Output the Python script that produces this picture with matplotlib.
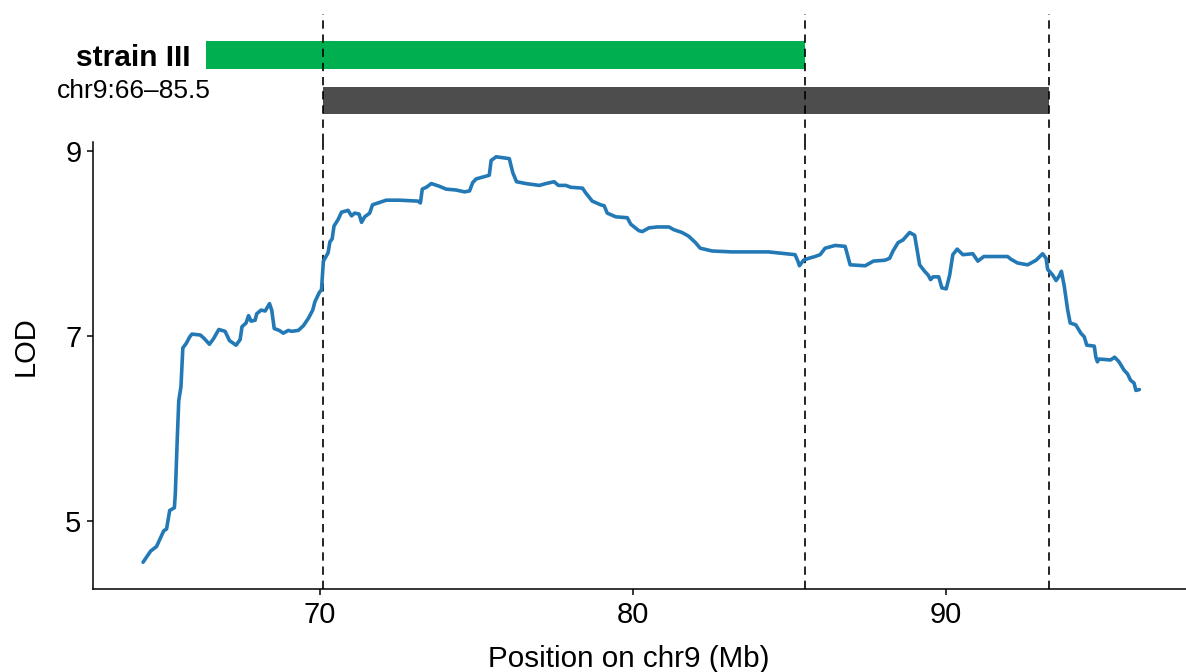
import matplotlib
matplotlib.use("Agg")
import matplotlib.pyplot as plt

plt.rcParams['font.family'] = ['Liberation Sans', 'DejaVu Sans']

# LOD profile along chr9 (Mb)
pos = [64.35, 64.59, 64.78, 65.01, 65.10, 65.20, 65.35, 65.38, 65.44, 65.49,
       65.56, 65.62, 65.73, 65.84, 65.91, 66.18, 66.31, 66.47, 66.60, 66.77,
       66.97, 67.11, 67.32, 67.45, 67.51, 67.64, 67.72, 67.80, 67.93, 67.98,
       68.12, 68.25, 68.39, 68.46, 68.54, 68.70, 68.83, 68.99, 69.10, 69.31,
       69.47, 69.63, 69.77, 69.84, 69.98, 70.05, 70.11, 70.26, 70.32, 70.39,
       70.45, 70.58, 70.69, 70.90, 71.01, 71.11, 71.25, 71.33, 71.43, 71.59,
       71.68, 71.86, 72.12, 72.55, 73.13, 73.21, 73.27, 73.40, 73.56, 73.82,
       74.03, 74.35, 74.62, 74.78, 74.88, 74.99, 75.20, 75.41, 75.47, 75.63,
       76.05, 76.16, 76.28, 76.58, 77.01, 77.22, 77.48, 77.62, 77.86, 78.01,
       78.39, 78.49, 78.70, 78.97, 79.08, 79.18, 79.45, 79.82, 79.93, 80.19,
       80.30, 80.51, 80.78, 81.15, 81.31, 81.57, 81.78, 82.00, 82.15, 82.53,
       83.16, 84.33, 85.18, 85.27, 85.32, 85.45, 85.61, 85.82, 85.98, 86.14,
       86.46, 86.78, 86.94, 87.42, 87.68, 88.05, 88.20, 88.31, 88.47, 88.63,
       88.84, 89.00, 89.16, 89.32, 89.43, 89.51, 89.59, 89.77, 89.87, 90.01,
       90.12, 90.22, 90.36, 90.54, 90.86, 91.02, 91.21, 91.44, 91.97, 92.08,
       92.29, 92.61, 92.88, 93.09, 93.20, 93.25, 93.41, 93.52, 93.62, 93.69,
       93.78, 93.89, 93.97, 94.15, 94.31, 94.42, 94.50, 94.74, 94.79, 94.84,
       94.89, 95.26, 95.39, 95.53, 95.69, 95.80, 95.90, 96.01, 96.07, 96.18]
lod = [4.55, 4.67, 4.72, 4.89, 4.91, 5.11, 5.14, 5.29, 5.87, 6.30,
       6.45, 6.87, 6.92, 6.99, 7.02, 7.01, 6.97, 6.91, 6.97, 7.07,
       7.05, 6.95, 6.90, 6.96, 7.10, 7.14, 7.22, 7.16, 7.17, 7.24,
       7.28, 7.27, 7.35, 7.28, 7.08, 7.06, 7.03, 7.06, 7.05, 7.06,
       7.11, 7.19, 7.28, 7.37, 7.47, 7.50, 7.81, 7.90, 8.02, 8.05,
       8.19, 8.26, 8.34, 8.36, 8.30, 8.33, 8.32, 8.23, 8.29, 8.33,
       8.42, 8.44, 8.47, 8.47, 8.46, 8.44, 8.59, 8.61, 8.65, 8.62,
       8.59, 8.58, 8.56, 8.57, 8.66, 8.70, 8.72, 8.74, 8.90, 8.94,
       8.92, 8.77, 8.67, 8.65, 8.63, 8.65, 8.67, 8.63, 8.63, 8.61,
       8.60, 8.55, 8.46, 8.42, 8.41, 8.33, 8.29, 8.28, 8.21, 8.14,
       8.13, 8.17, 8.18, 8.18, 8.15, 8.12, 8.08, 8.01, 7.95, 7.92,
       7.91, 7.91, 7.88, 7.81, 7.76, 7.82, 7.84, 7.86, 7.88, 7.95,
       7.98, 7.97, 7.77, 7.76, 7.81, 7.82, 7.84, 7.92, 8.01, 8.04,
       8.12, 8.09, 7.77, 7.70, 7.66, 7.61, 7.64, 7.64, 7.52, 7.51,
       7.66, 7.88, 7.94, 7.88, 7.89, 7.81, 7.86, 7.86, 7.86, 7.83,
       7.79, 7.77, 7.82, 7.89, 7.84, 7.72, 7.66, 7.60, 7.65, 7.70,
       7.54, 7.28, 7.14, 7.12, 7.03, 6.99, 6.90, 6.89, 6.77, 6.72,
       6.75, 6.74, 6.77, 6.72, 6.63, 6.59, 6.52, 6.49, 6.41, 6.42]

# intervals shown above the scan
strain_start, strain_end = 66.35, 85.5
ci_start, ci_end = 70.11, 93.30
markers = [70.11, 85.5, 93.30]

x_ticks = [70, 80, 90]
y_ticks = [5, 7, 9]

W, H = 1186, 672
fig = plt.figure(figsize=(W / 100, H / 100), dpi=100)

# main LOD axes (pixel layout converted to figure fractions)
ax = fig.add_axes([93 / W, (H - 589) / H, (W - 93) / W, 447 / H])
ax_top = fig.add_axes([93 / W, (H - 142) / H, (W - 93) / W, 128 / H], sharex=ax)

ax.plot(pos, lod, color='#2379b5', lw=2.6, solid_joinstyle='round',
        solid_capstyle='round', zorder=3)
for m in markers:
    ax.axvline(m, color='black', lw=1.2, linestyle=(0, (5, 3.5)), zorder=2)
    ax_top.axvline(m, color='black', lw=1.2, linestyle=(0, (5, 3.5)), zorder=3)

ax.set_xlim(62.75, 97.67)
ax.set_ylim(4.26, 9.10)
ax.set_xticks(x_ticks)
ax.set_yticks(y_ticks)
ax.tick_params(direction='out', length=4.3, width=1.1, pad=4, labelsize=21)
for side in ['top', 'right']:
    ax.spines[side].set_visible(False)
for side in ['left', 'bottom']:
    ax.spines[side].set_linewidth(1.1)

ax.set_xlabel('Position on chr9 (Mb)', fontsize=21.3, va='baseline')
ax.xaxis.set_label_coords((628.5 - 93) / (W - 93), (589 - 667) / 447)
ax.set_ylabel('LOD', fontsize=21, va='center', ha='center')
ax.yaxis.set_label_coords((26 - 93) / (W - 93), (589 - 346) / 447)

# interval bars
ax_top.barh(1, strain_end - strain_start, left=strain_start, height=0.6,
            color='#00b050', zorder=2)
ax_top.barh(0, ci_end - ci_start, left=ci_start, height=0.59,
            color='#4d4d4d', zorder=2)
ax_top.set_ylim(-0.896, 1.89)
ax_top.axis('off')

fig.text(190.7 / W, 1 - 65.7 / H, 'strain III', fontsize=21.5,
         fontweight='bold', ha='right', va='baseline')
fig.text(210.7 / W, 1 - 98.3 / H, 'chr9:66\u201385.5', fontsize=19,
         ha='right', va='baseline')

fig.savefig('out.png', dpi=100)
